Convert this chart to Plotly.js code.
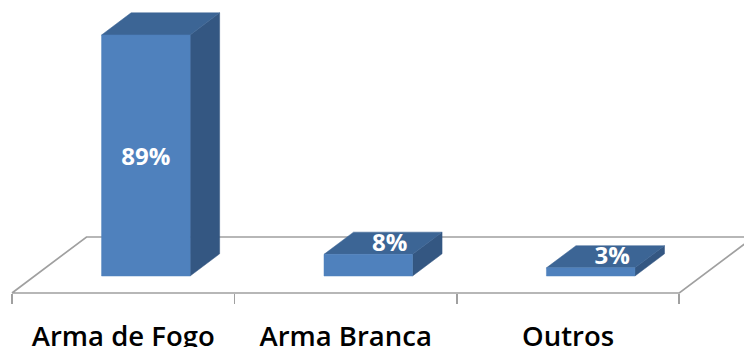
<!DOCTYPE html>
<html>
<head>
<meta charset="utf-8">
<script src="https://cdn.plot.ly/plotly-3.0.1.min.js"></script>
<style>html,body{margin:0;padding:0;background:#fff;}#chart{width:744px;height:347px;}</style>
</head>
<body>
<div id="chart"></div>
<script>
// ---- data ----
const categories = ['Arma de Fogo', 'Arma Branca', 'Outros'];
const values = [89, 8, 3];
const valueLabels = ['89%', '8%', '3%'];

// ---- geometry / style constants ----
const W = 744, H = 347;
const pxPerCat = 222.43;          // px per category unit
const pxPerPct = 2.708;           // px per percent
const floorFrontPx = 293;         // pixel y of floor front edge
const floorLeftPx = 12;           // pixel x of floor front-left corner
const marginB = 40;
const DX = 74.5 / pxPerCat;       // floor depth offset in x data units
const DY = 56 / pxPerPct;         // floor depth offset in y data units
const barHalf = 0.199;
const d0 = 0.3036, d1 = 0.70;
const colFront = '#4f81bd', colTop = '#3c6595', colSide = '#345782';
const floorColor = '#a0a0a0';

const x0 = -0.5 - floorLeftPx / pxPerCat;
const x1 = x0 + W / pxPerCat;
const plotH = H - marginB;
const y0 = -(plotH - floorFrontPx) / pxPerPct;
const y1 = floorFrontPx / pxPerPct;

function P(x, v, d) { return [x + d * DX, v + d * DY]; }
function poly(pts, color) {
  const xs = pts.map(p => p[0]); const ys = pts.map(p => p[1]);
  xs.push(xs[0]); ys.push(ys[0]);
  return {type: 'scatter', mode: 'lines', x: xs, y: ys, fill: 'toself',
          fillcolor: color, line: {width: 0.5, color: color}, hoverinfo: 'skip', showlegend: false};
}

const n = categories.length;
const traces = [];
// floor
const fl = [P(-0.5, 0, 0), P(n - 0.5, 0, 0), P(n - 0.5, 0, 1), P(-0.5, 0, 1)];
traces.push({type: 'scatter', mode: 'lines',
  x: [fl[0][0], fl[1][0], fl[2][0], fl[3][0], fl[0][0]],
  y: [fl[0][1], fl[1][1], fl[2][1], fl[3][1], fl[0][1]],
  line: {color: floorColor, width: 1.7}, hoverinfo: 'skip', showlegend: false});

// bars
const lx = [], ly = [];
values.forEach((v, i) => {
  const a = i - barHalf, b = i + barHalf;
  traces.push(poly([P(b, 0, d0), P(b, 0, d1), P(b, v, d1), P(b, v, d0)], colSide));
  traces.push(poly([P(a, v, d0), P(b, v, d0), P(b, v, d1), P(a, v, d1)], colTop));
  traces.push(poly([P(a, 0, d0), P(b, 0, d0), P(b, v, d0), P(a, v, d0)], colFront));
  if (v > 15) { const c = P(i, v / 2, d0); lx.push(c[0]); ly.push(c[1] - 1.2); }
  else { const c = P(i + 0.03, v, (d0 + d1) / 2); lx.push(c[0]); ly.push(c[1] - 0.6); }
});
traces.push({type: 'scatter', mode: 'text', x: lx, y: ly, text: valueLabels,
  textposition: 'middle center', cliponaxis: false,
  textfont: {family: 'Open Sans', size: 24, color: '#ffffff', weight: 'bold'},
  hoverinfo: 'skip', showlegend: false});

const layout = {
  width: W, height: H,
  margin: {l: 0, r: 0, t: 0, b: marginB, pad: 0},
  paper_bgcolor: '#ffffff', plot_bgcolor: '#ffffff',
  showlegend: false, hovermode: false,
  xaxis: {
    range: [x0, x1], showgrid: false, zeroline: false, showline: false,
    tickmode: 'array', tickvals: categories.map((c, i) => i), ticktext: categories,
    ticks: '', ticklabelstandoff: 24,
    tickfont: {family: 'Open Sans', size: 27.5, color: '#000000', weight: 600},
    minor: {tickmode: 'array', tickvals: categories.map((c, i) => i - 0.5).concat([n - 0.5]),
            ticks: 'outside', ticklen: 10, tickwidth: 1.7, tickcolor: floorColor, showgrid: false},
    anchor: 'free', position: (plotH - floorFrontPx) / plotH, fixedrange: true
  },
  yaxis: {range: [y0, y1], visible: false, fixedrange: true}
};

Plotly.newPlot('chart', traces, layout, {displayModeBar: false, staticPlot: true});
</script>
</body>
</html>
